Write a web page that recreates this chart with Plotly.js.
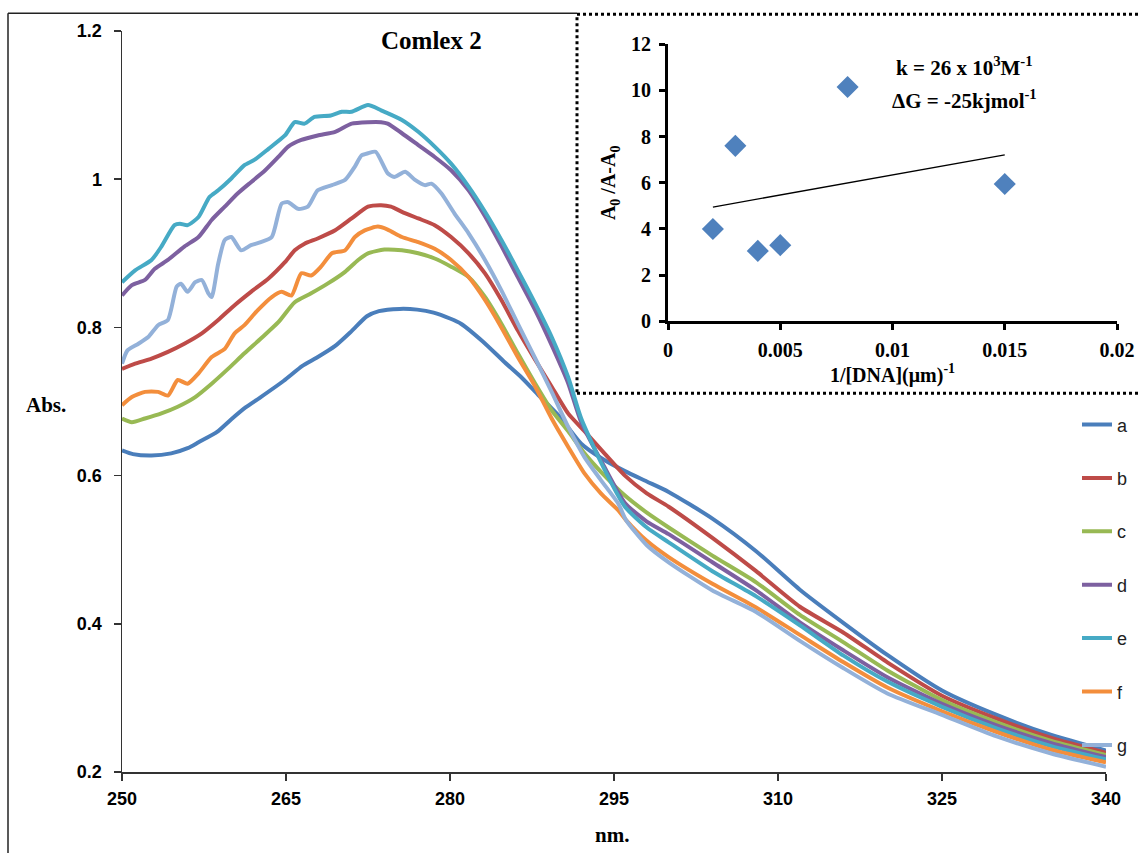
<!DOCTYPE html>
<html>
<head>
<meta charset="utf-8">
<script src="https://cdn.plot.ly/plotly-3.0.1.min.js"></script>
<style>html,body{margin:0;padding:0;background:#fff;}#chart{width:1138px;height:853px;}</style>
</head>
<body>
<div id="chart"></div>
<script>
// ---- Main spectra (wavelength nm, absorbance) ----
const wlA = [250,251,252.7,254.5,256,257,258.7,260,261.3,262.6,264.8,266.5,267.8,269.5,271,272.4,273.5,275.4,277,278.5,280,281,283,285,286.5,288,290,292,294,296,298,300,304,308,312,316,320,325,330,335,340];
const absA = [0.634,0.629,0.627,0.630,0.637,0.645,0.659,0.676,0.692,0.705,0.728,0.748,0.759,0.775,0.795,0.815,0.822,0.825,0.824,0.820,0.812,0.805,0.781,0.753,0.733,0.710,0.680,0.643,0.622,0.606,0.592,0.578,0.542,0.498,0.446,0.401,0.358,0.310,0.277,0.250,0.229];

const wlB = [250,251.2,252.7,254.2,255.7,257.3,258.8,260.3,261.8,263.4,264.9,265.8,266.7,267.9,269.5,271,272.5,273.7,274.6,275.6,277.1,278.6,280.1,281.7,283.2,284.7,286.2,287.8,289.3,290.8,292.3,294,296,298,300,304,308,312,316,320,325,330,335,340];
const absB = [0.744,0.751,0.758,0.767,0.778,0.792,0.810,0.830,0.848,0.866,0.888,0.904,0.913,0.920,0.931,0.947,0.963,0.965,0.963,0.956,0.947,0.938,0.922,0.900,0.873,0.837,0.796,0.756,0.720,0.684,0.660,0.632,0.600,0.576,0.558,0.516,0.471,0.423,0.388,0.348,0.303,0.272,0.246,0.226];

const wlC = [250,250.9,252.1,253.6,255.1,256.7,258.2,259.7,261.2,262.7,264.3,265.8,267.3,268.8,270.4,271.6,272.5,274,275.6,277.1,278.6,280.1,281.7,283.2,284.7,286.2,287.8,289.3,290.8,292.3,294,296,298,300,304,308,312,316,320,325,330,335,340];
const absC = [0.677,0.672,0.677,0.684,0.693,0.706,0.724,0.744,0.765,0.785,0.807,0.834,0.846,0.859,0.875,0.891,0.900,0.905,0.904,0.900,0.893,0.882,0.868,0.841,0.805,0.765,0.724,0.688,0.660,0.630,0.602,0.573,0.550,0.530,0.492,0.456,0.412,0.375,0.337,0.297,0.267,0.242,0.223];

const wlD = [250,250.9,252.1,253,254.2,255.7,257,258.2,259.4,260.6,261.8,263.1,264.3,265.2,266.4,267.9,269.5,271,272.5,273.7,274.3,275.6,277.1,278.6,280.1,281.7,283.2,284.7,286.2,287.8,289.3,290.8,292,294,296,298,300,304,308,312,316,320,325,330,335,340];
const absD = [0.843,0.857,0.864,0.879,0.891,0.909,0.922,0.945,0.963,0.981,0.996,1.012,1.030,1.044,1.053,1.059,1.064,1.075,1.077,1.077,1.075,1.062,1.046,1.030,1.012,0.985,0.950,0.910,0.868,0.823,0.776,0.725,0.672,0.615,0.563,0.538,0.521,0.483,0.445,0.402,0.364,0.328,0.292,0.263,0.239,0.220];

const wlE = [250,251.2,252.7,253.6,254.8,255.3,256,257,258,258.8,260,261.2,262.1,263.4,264.9,265.8,266.7,267.6,269.1,270.1,271,272.5,273.7,275.6,277.1,278.6,280.1,281.7,283.2,284.7,286.2,287.8,289.3,290.8,292,294,296,298,300,304,308,312,316,320,325,330,335,340];
const absE = [0.861,0.877,0.891,0.909,0.938,0.940,0.938,0.949,0.976,0.985,1.001,1.019,1.026,1.041,1.059,1.077,1.075,1.084,1.086,1.091,1.091,1.100,1.093,1.080,1.064,1.044,1.021,0.990,0.956,0.918,0.877,0.832,0.787,0.733,0.677,0.612,0.558,0.530,0.510,0.471,0.437,0.398,0.357,0.322,0.288,0.259,0.235,0.217];

const wlF = [250,250.9,252.1,253.3,254.2,255.1,256,257,258.2,259.4,260.3,261.2,262.4,263.7,264.6,265.5,266.4,267.3,268.2,269.2,270.4,271.3,272.2,273.4,274.3,275.6,277.1,278.6,280.1,281.7,283.2,284.7,286.2,287.8,289.3,290.8,292.3,293.8,295.4,296.1,298,300,304,308,312,316,320,325,330,335,340];
const absF = [0.695,0.706,0.713,0.713,0.708,0.729,0.724,0.738,0.760,0.771,0.792,0.803,0.823,0.841,0.848,0.843,0.873,0.870,0.882,0.900,0.904,0.922,0.931,0.936,0.932,0.922,0.915,0.906,0.891,0.868,0.837,0.800,0.760,0.720,0.677,0.639,0.603,0.576,0.553,0.540,0.512,0.490,0.454,0.422,0.385,0.348,0.314,0.282,0.254,0.230,0.213];

const wlG = [250,250.5,251.5,252.4,253.3,254.2,255,255.4,256,256.7,257.3,257.9,258.2,258.8,259.4,260,260.9,261.8,262.7,263.7,264.6,265.2,266.1,267,267.9,269.2,270.4,271.3,271.9,272.5,273.2,274.3,274.9,275.9,276.8,277.7,278.3,279.2,280.4,281.7,283.2,284.7,286.2,287.8,289.3,290.8,292.3,293.8,295.4,296.1,298,300,304,308,312,316,320,325,330,335,340];
const absG = [0.751,0.769,0.778,0.787,0.803,0.810,0.855,0.859,0.848,0.861,0.864,0.846,0.841,0.886,0.918,0.922,0.904,0.911,0.915,0.922,0.967,0.969,0.960,0.963,0.985,0.992,0.999,1.017,1.032,1.035,1.037,1.008,1.003,1.010,0.999,0.992,0.994,0.981,0.954,0.927,0.891,0.850,0.805,0.758,0.713,0.666,0.625,0.594,0.562,0.540,0.506,0.483,0.445,0.416,0.377,0.340,0.306,0.277,0.248,0.225,0.207];

const seriesNames = ["a","b","c","d","e","f","g"];
const seriesColors = ["#4A7EBB","#BE4B48","#98B954","#7D60A0","#46AAC5","#F38E3C","#93B1D9"];

// ---- Inset: binding plot ----
const invDNA = [0.002,0.003,0.004,0.005,0.008,0.015];
const ratio = [4.0,7.6,3.05,3.3,10.15,5.95];

const mainTicks = [250,265,280,295,310,325,340];
const insetXTicks = [0,0.005,0.01,0.015,0.02];
const insetXTickText = ["0","0.005","0.01","0.015","0.02"];

// least-squares trendline through the inset points
const n = invDNA.length;
const mx = invDNA.reduce((s,v)=>s+v,0)/n;
const my = ratio.reduce((s,v)=>s+v,0)/n;
let sxy=0,sxx=0;
for(let i=0;i<n;i++){sxy+=(invDNA[i]-mx)*(ratio[i]-my);sxx+=(invDNA[i]-mx)**2;}
const slope=sxy/sxx, icpt=my-slope*mx;
const xmin=Math.min(...invDNA), xmax=Math.max(...invDNA);

const xs=[wlA,wlB,wlC,wlD,wlE,wlF,wlG];
const ys=[absA,absB,absC,absD,absE,absF,absG];

const traces = xs.map((x,i)=>({
  x:x, y:ys[i], type:'scatter', mode:'lines', name:seriesNames[i],
  legendgroup:seriesNames[i],
  line:{color:seriesColors[i], width:4, shape:'spline', smoothing:0.6},
  xaxis:'x', yaxis:'y', hoverinfo:'skip'
}));
traces.push({
  x:[xmin,xmax], y:[icpt+slope*xmin, icpt+slope*xmax], type:'scatter', mode:'lines',
  line:{color:'#000', width:1.3}, xaxis:'x2', yaxis:'y2', showlegend:false, hoverinfo:'skip'
});
traces.push({
  x:invDNA, y:ratio, type:'scatter', mode:'markers',
  marker:{symbol:'diamond', size:17, color:'#4F81BD'},
  xaxis:'x2', yaxis:'y2', showlegend:false, hoverinfo:'skip'
});

const W=1016; // plot width in px (l=122, r=0)
const PX=px=>(px-122)/W;
const PY=py=>(771.7-py)/741;

const serifB = {family:'"Liberation Serif", "Times New Roman", serif', color:'#000'};
const sansB = {family:'"Liberation Sans", Arial, sans-serif', color:'#000', weight:'bold'};

const layout = {
  width:1138, height:853,
  margin:{l:122, r:0, t:31, b:81, pad:0},
  paper_bgcolor:'#fff', plot_bgcolor:'rgba(0,0,0,0)',
  showlegend:true,
  legend:{x:PX(1077), y:PY(406), xanchor:'left', yanchor:'top',
    traceorder:'grouped', tracegroupgap:27,
    font:{family:'"Liberation Sans", Arial, sans-serif', size:18, color:'#222'},
    bgcolor:'rgba(0,0,0,0)', itemwidth:30},
  xaxis:{domain:[0, 984/W], range:[250,340], tickmode:'array', tickvals:mainTicks,
    showgrid:false, zeroline:false, showline:true, linecolor:'#333', linewidth:1.5,
    ticks:'outside', ticklen:7, tickcolor:'#333', tickwidth:1.5,
    tickfont:Object.assign({size:18}, sansB), ticklabelstandoff:3, anchor:'y'},
  yaxis:{domain:[0,1], range:[0.2,1.2], dtick:0.2, tick0:0.2,
    showgrid:false, zeroline:false, showline:true, linecolor:'#333', linewidth:1.5,
    ticks:'outside', ticklen:7, tickcolor:'#333', tickwidth:1.5,
    tickfont:Object.assign({size:18}, sansB), ticklabelstandoff:8, anchor:'x'},
  xaxis2:{domain:[PX(668), PX(1117)], range:[0,0.02], tickmode:'array', tickvals:insetXTicks, ticktext:insetXTickText,
    anchor:'y2', showgrid:false, zeroline:false, showline:true, linecolor:'#000', linewidth:3,
    ticks:'outside', ticklen:6, tickwidth:3, tickcolor:'#000',
    tickfont:Object.assign({size:20, weight:'bold'}, serifB), ticklabelstandoff:3,
    title:{text:'<b>1/[DNA](μm)<sup>-1</sup></b>', font:Object.assign({size:20}, serifB), standoff:0}},
  yaxis2:{domain:[PY(321), PY(44)], range:[0,12], dtick:2,
    anchor:'x2', showgrid:false, zeroline:false, showline:true, linecolor:'#000', linewidth:3,
    ticks:'outside', ticklen:6, tickwidth:3, tickcolor:'#000',
    tickfont:Object.assign({size:20, weight:'bold'}, serifB), ticklabelstandoff:4,
    title:{text:'<b>A<sub>0</sub> /A-A<sub>0</sub></b>', font:Object.assign({size:20}, serifB), standoff:10}},
  shapes:[
    {type:'line', xref:'paper', yref:'paper', x0:PX(8), x1:PX(8), y0:PY(13), y1:PY(860), line:{color:'#222', width:1.5}},
    {type:'line', xref:'paper', yref:'paper', x0:PX(8), x1:PX(577), y0:PY(13), y1:PY(13), line:{color:'#222', width:1.5}},
    {type:'rect', xref:'paper', yref:'paper', x0:PX(577), x1:PX(1145), y0:PY(393), y1:PY(14), line:{color:'#000', width:3, dash:'dot'}, fillcolor:'rgba(0,0,0,0)'}
  ],
  annotations:[
    {text:'<b>Comlex 2</b>', xref:'paper', yref:'paper', x:PX(431), y:PY(40), showarrow:false, xanchor:'center', yanchor:'middle', font:Object.assign({size:25}, serifB)},
    {text:'<b>Abs.</b>', xref:'paper', yref:'paper', x:PX(46), y:PY(405), showarrow:false, xanchor:'center', yanchor:'middle', font:Object.assign({size:21}, serifB)},
    {text:'<b>nm.</b>', xref:'paper', yref:'paper', x:PX(612), y:PY(835), showarrow:false, xanchor:'center', yanchor:'middle', font:Object.assign({size:21}, serifB)},
    {text:'<b>k = 26 x 10<sup>3</sup>M<sup>-1</sup></b>', xref:'paper', yref:'paper', x:PX(964), y:PY(66), showarrow:false, xanchor:'center', yanchor:'middle', font:Object.assign({size:21}, serifB)},
    {text:'<b>ΔG = -25kjmol<sup>-1</sup></b>', xref:'paper', yref:'paper', x:PX(964), y:PY(99), showarrow:false, xanchor:'center', yanchor:'middle', font:Object.assign({size:21}, serifB)}
  ]
};

Plotly.newPlot('chart', traces, layout, {displayModeBar:false, staticPlot:true});
</script>
</body>
</html>
